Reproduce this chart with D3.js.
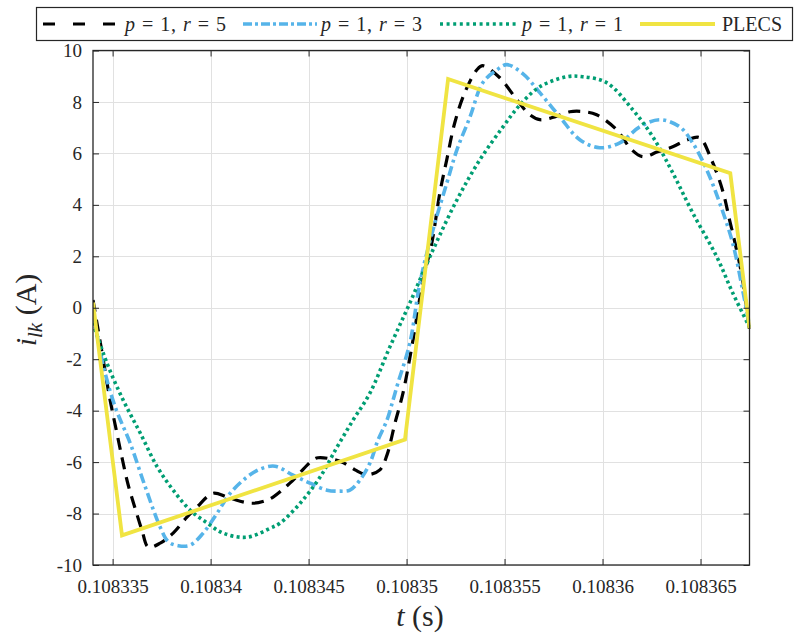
<!DOCTYPE html>
<html><head><meta charset="utf-8">
<script src="https://cdn.jsdelivr.net/npm/d3@7"></script>
<style>
body{margin:0;background:#fff;}
svg{display:block;}
svg text{font-family:"Liberation Serif","Times New Roman",serif !important;}
</style></head><body>
<svg id="chart" width="794" height="634"></svg>
<script>
// ---- data ----
const xTickValues = [0.108335, 0.10834, 0.108345, 0.10835, 0.108355, 0.10836, 0.108365];
const xTickLabels = ["0.108335", "0.10834", "0.108345", "0.10835", "0.108355", "0.10836", "0.108365"];
const yTickValues = [-10, -8, -6, -4, -2, 0, 2, 4, 6, 8, 10];
const yTickLabels = ["-10", "-8", "-6", "-4", "-2", "0", "2", "4", "6", "8", "10"];

const tR5 = [0.108334, 0.10833445, 0.10833485, 0.1083352, 0.1083355, 0.1083358, 0.10833615, 0.1083365, 0.10833682, 0.10833743, 0.10833809, 0.10833879, 0.1083393, 0.10834013, 0.10834083, 0.10834151, 0.10834217, 0.10834287, 0.10834319, 0.10834406, 0.10834523, 0.10834548, 0.1083461, 0.10834676, 0.10834737, 0.10834798, 0.10834864, 0.108349, 0.10834941, 0.10834982, 0.10835033, 0.10835084, 0.10835129, 0.1083517, 0.10835205, 0.10835246, 0.10835297, 0.10835359, 0.10835389, 0.10835476, 0.10835563, 0.10835629, 0.1083568, 0.10835756, 0.10835833, 0.10835909, 0.1083597, 0.10836072, 0.10836149, 0.10836205, 0.10836281, 0.10836358, 0.10836434, 0.10836495, 0.10836556, 0.10836612, 0.10836648, 0.10836684, 0.10836715, 0.1083675];
const iR5 = [0.3, -1.7, -3.5, -4.8, -5.9, -6.9, -7.8, -8.65, -9.3, -9.15, -8.76, -8.14, -7.75, -7.21, -7.36, -7.52, -7.60, -7.48, -7.36, -6.81, -5.91, -5.83, -5.87, -6.02, -6.30, -6.49, -6.30, -5.73, -4.48, -3.31, -1.25, 1.08, 2.52, 4.47, 5.75, 7.19, 8.36, 9.25, 9.41, 8.94, 8.08, 7.50, 7.31, 7.42, 7.62, 7.62, 7.50, 6.92, 6.14, 5.87, 6.06, 6.26, 6.53, 6.61, 5.75, 4.58, 3.42, 2.25, 1.08, -0.85];

const tR3 = [0.108334, 0.10833454, 0.10833514, 0.1083359, 0.10833667, 0.10833743, 0.10833785, 0.10833835, 0.10833896, 0.10833962, 0.10834034, 0.108341, 0.10834186, 0.10834253, 0.10834329, 0.10834421, 0.10834508, 0.10834594, 0.1083466, 0.10834711, 0.10834762, 0.10834813, 0.10834854, 0.108349, 0.10834931, 0.10834956, 0.10835017, 0.10835068, 0.10835135, 0.10835206, 0.10835257, 0.10835324, 0.10835389, 0.10835461, 0.10835512, 0.10835593, 0.1083568, 0.10835782, 0.10835884, 0.10835986, 0.10836088, 0.1083619, 0.10836292, 0.10836394, 0.1083646, 0.10836532, 0.10836598, 0.10836664, 0.10836715, 0.1083675];
const iR3 = [-0.2, -2.3, -3.87, -5.27, -6.97, -8.53, -9.1, -9.25, -9.23, -8.76, -7.98, -7.21, -6.58, -6.27, -6.16, -6.51, -6.82, -7.09, -7.13, -7.09, -6.70, -6.04, -5.15, -4.37, -3.59, -2.93, -1.37, 0.96, 3.03, 4.86, 6.14, 7.42, 8.75, 9.25, 9.45, 9.10, 8.36, 7.42, 6.53, 6.22, 6.41, 7.03, 7.31, 7.03, 6.41, 5.36, 4.07, 2.52, 0.69, -0.7];

const tR1 = [0.108334, 0.10833471, 0.10833554, 0.10833641, 0.10833728, 0.10833809, 0.10833896, 0.10833983, 0.10834064, 0.10834186, 0.10834304, 0.10834355, 0.10834457, 0.10834559, 0.10834645, 0.10834727, 0.10834813, 0.10834915, 0.10835017, 0.10835135, 0.10835257, 0.10835374, 0.10835492, 0.10835579, 0.1083568, 0.10835818, 0.10835899, 0.10836021, 0.10836154, 0.10836256, 0.10836358, 0.1083646, 0.10836583, 0.10836664, 0.1083675];
const iR1 = [-0.59, -2.15, -3.59, -4.87, -6.19, -7.09, -7.87, -8.37, -8.76, -8.92, -8.57, -8.37, -7.60, -6.58, -5.42, -4.37, -3.32, -1.52, 0.19, 2.25, 4.19, 5.75, 7.03, 7.89, 8.59, 8.98, 8.98, 8.75, 7.70, 6.65, 5.25, 3.69, 1.98, 0.58, -0.75];

const tPlecs = [0.108334, 0.10833548, 0.10834992, 0.10835212, 0.10836652, 0.1083675];
const iPlecs = [0.2, -8.85, -5.12, 8.89, 5.23, -0.8];

const seriesNames = ["r5", "r3", "r1", "plecs"];

// ---- layout ----
const svg = d3.select("#chart");
const L = 93, R = 749.5, T = 50.5, B = 565;
const x = d3.scaleLinear().domain([0.108334, 0.1083675]).range([L, R]);
const y = d3.scaleLinear().domain([-10, 10]).range([B, T]);

const styles = {
  r5: {color: "#000000", width: 3.2, dash: "12,8", legendDash: "12,18", cap: "butt"},
  r3: {color: "#56B4E9", width: 3.6, dash: "10,4,3,4", legendDash: "9,3,3,3", cap: "butt"},
  r1: {color: "#009E73", width: 3.6, dash: "3,3.2", legendDash: "3,3.6", cap: "butt"},
  plecs: {color: "#F0E442", width: 3.8, dash: null, legendDash: null, cap: "butt"}
};
const seriesData = {
  r5: tR5.map((t, k) => [t, iR5[k]]),
  r3: tR3.map((t, k) => [t, iR3[k]]),
  r1: tR1.map((t, k) => [t, iR1[k]]),
  plecs: tPlecs.map((t, k) => [t, iPlecs[k]])
};

// grid
const grid = svg.append("g").attr("stroke", "#e1e1e1").attr("stroke-width", 1);
grid.selectAll(".gx").data(xTickValues).join("line")
  .attr("x1", d => Math.round(x(d)) + 0.5).attr("x2", d => Math.round(x(d)) + 0.5)
  .attr("y1", T).attr("y2", B);
grid.selectAll(".gy").data(yTickValues).join("line")
  .attr("y1", d => Math.round(y(d)) + 0.5).attr("y2", d => Math.round(y(d)) + 0.5)
  .attr("x1", L).attr("x2", R);

// clip
svg.append("clipPath").attr("id", "clip").append("rect")
  .attr("x", L).attr("y", T - 2).attr("width", R - L + 1).attr("height", B - T + 4);

const lineSmooth = d3.line().x(d => x(d[0])).y(d => y(d[1])).curve(d3.curveCatmullRom.alpha(0.5));
const lineStraight = d3.line().x(d => x(d[0])).y(d => y(d[1]));

const gLines = svg.append("g").attr("clip-path", "url(#clip)");
seriesNames.forEach(name => {
  const s = styles[name];
  gLines.append("path")
    .attr("d", (name === "plecs" ? lineStraight : lineSmooth)(seriesData[name]))
    .attr("fill", "none")
    .attr("stroke", s.color)
    .attr("stroke-width", s.width)
    .attr("stroke-linejoin", "miter")
    .attr("stroke-linecap", s.cap)
    .attr("stroke-dasharray", s.dash);
});

// axes
const axisColor = "#262626";
const xAxis = d3.axisBottom(x).tickValues(xTickValues).tickFormat((d, k) => xTickLabels[k]).tickSize(-6).tickPadding(15);
const yAxis = d3.axisLeft(y).tickValues(yTickValues).tickFormat((d, k) => yTickLabels[k]).tickSize(-6).tickPadding(11);
const xTop = d3.axisTop(x).tickValues(xTickValues).tickFormat("").tickSize(-6);
const yRight = d3.axisRight(y).tickValues(yTickValues).tickFormat("").tickSize(-6);

function styleAxis(g) {
  g.select(".domain").remove();
  g.attr("font-family", null);
  g.selectAll(".tick line").attr("stroke", axisColor).attr("stroke-width", 1);
  g.selectAll(".tick text").attr("fill", "#262626").style("font-size", "19px");
}
svg.append("g").attr("transform", `translate(0,${B})`).call(xAxis).call(styleAxis);
svg.append("g").attr("transform", `translate(${L},0)`).call(yAxis).call(styleAxis);
svg.append("g").attr("transform", `translate(0,${T})`).call(xTop).call(styleAxis);
svg.append("g").attr("transform", `translate(${R},0)`).call(yRight).call(styleAxis);

svg.append("rect").attr("x", L).attr("y", T).attr("width", R - L).attr("height", B - T)
  .attr("fill", "none").attr("stroke", axisColor).attr("stroke-width", 1.3);

// axis labels
const xl = svg.append("text").attr("x", 420).attr("y", 626).attr("text-anchor", "middle")
  .attr("font-size", 30).attr("fill", "#262626");
xl.append("tspan").attr("font-style", "italic").text("t");
xl.append("tspan").text(" (s)");

const yl = svg.append("text").attr("transform", "translate(36,310) rotate(-90)")
  .attr("text-anchor", "middle").attr("font-size", 30).attr("fill", "#262626");
yl.append("tspan").attr("font-style", "italic").text("i");
yl.append("tspan").attr("font-style", "italic").attr("font-size", 21).attr("dy", 6).text("lk");
yl.append("tspan").attr("dy", -6).text(" (A)");

// legend
const legend = svg.append("g");
legend.append("rect").attr("x", 36.5).attr("y", 7.5).attr("width", 756).attr("height", 33)
  .attr("fill", "#fff").attr("stroke", axisColor).attr("stroke-width", 1.2);
const legendItems = [
  {name: "r5", x0: 43, x1: 115, tx: 125, parts: [["p", true], [" = 1, ", false], ["r", true], [" = 5", false]]},
  {name: "r3", x0: 243, x1: 317, tx: 321, parts: [["p", true], [" = 1, ", false], ["r", true], [" = 3", false]]},
  {name: "r1", x0: 440, x1: 518, tx: 522, parts: [["p", true], [" = 1, ", false], ["r", true], [" = 1", false]]},
  {name: "plecs", x0: 640, x1: 715, tx: 722, parts: [["PLECS", false]]}
];
legendItems.forEach(it => {
  const s = styles[it.name];
  legend.append("line").attr("x1", it.x0).attr("x2", it.x1).attr("y1", 24).attr("y2", 24)
    .attr("stroke", s.color).attr("stroke-width", s.width).attr("stroke-dasharray", s.legendDash);
  const tx = legend.append("text").attr("x", it.tx).attr("y", 31).attr("font-size", 20).attr("fill", "#262626");
  it.parts.forEach(p => tx.append("tspan").attr("font-style", p[1] ? "italic" : "normal").text(p[0]));
  if (it.name !== "plecs") tx.attr("textLength", 101).attr("lengthAdjust", "spacing");
});
</script>
</body></html>
